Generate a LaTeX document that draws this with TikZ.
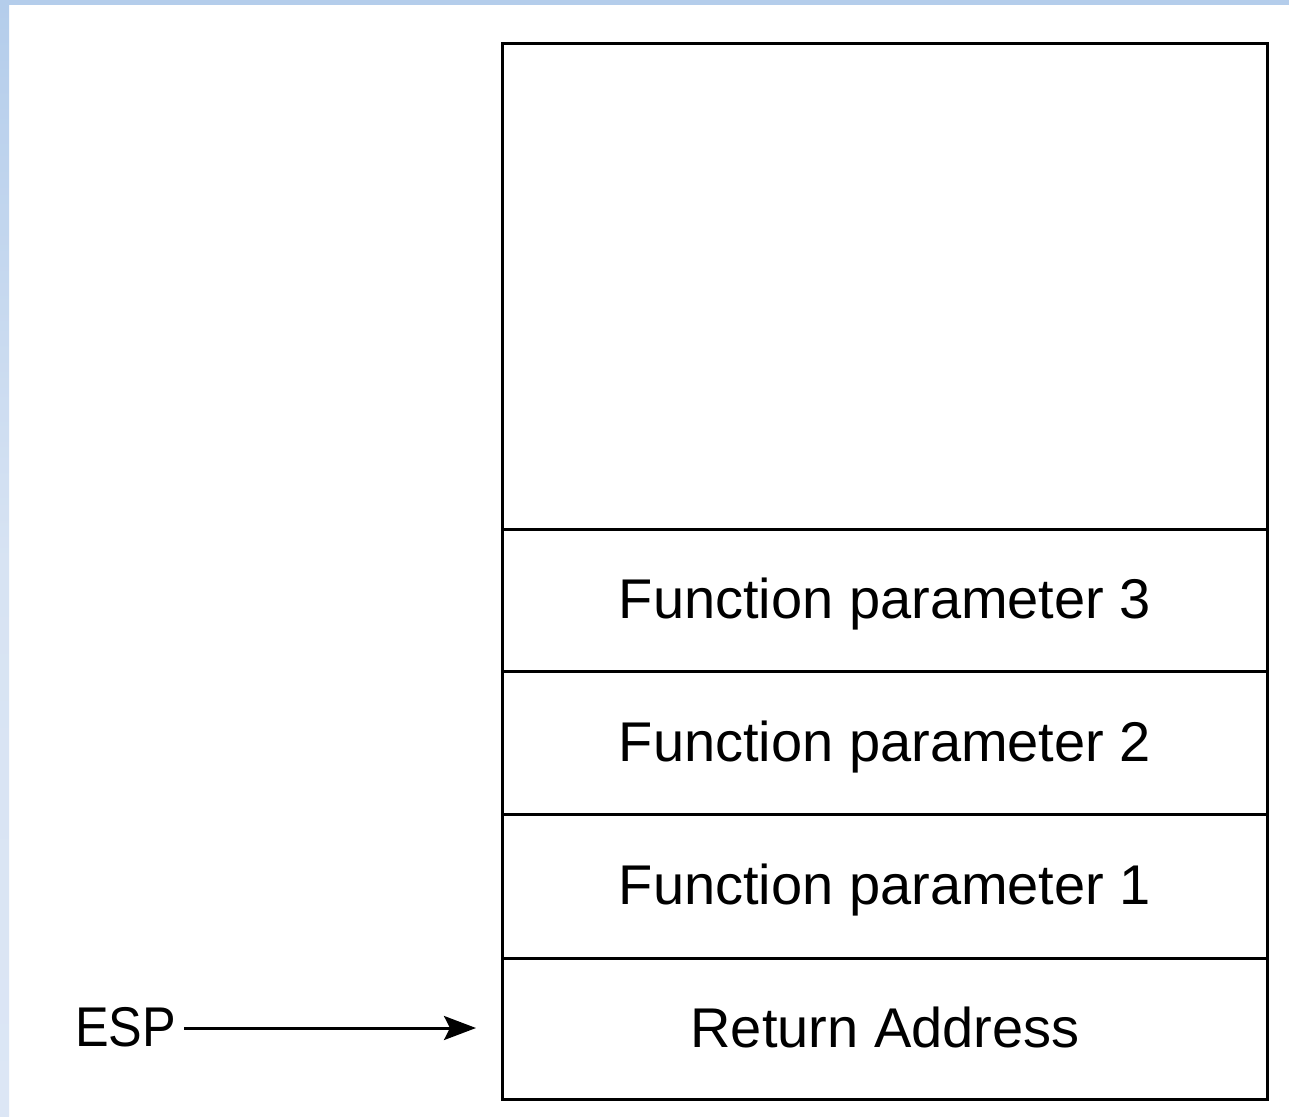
\documentclass[tikz,border=0pt]{standalone}
\usepackage{fontspec}
\setmainfont{Liberation Sans}
\usetikzlibrary{arrows.meta}
\begin{document}
\begin{tikzpicture}[x=1pt,y=-1pt,
  cell/.style={draw=black,line width=3pt,minimum width=765pt,anchor=north west,inner sep=0pt},
  celltext/.style={font=\fontsize{56}{60}\selectfont,inner sep=0pt,anchor=base,yshift=-18pt},
  lbl/.style={font=\fontsize{56}{60}\selectfont,inner sep=0pt},
  pointer/.style={line width=3pt,-{Stealth[length=32pt,width=24pt,inset=6pt]}}]
  % page frame with a blue band on top and a fading one on the left
  \useasboundingbox (0,0) rectangle (1289,1116);
  \fill[white] (0,0) rectangle (1289,1116);
  \fill[color={rgb,255:red,180;green,205;blue,235}] (0,0) rectangle (1289,5);
  \shade[top color={rgb,255:red,180;green,205;blue,235},bottom color={rgb,255:red,220;green,230;blue,245},middle color={rgb,255:red,215;green,227;blue,243}] (0,5) rectangle (9,1116);
  % stack cells, top to bottom
  \node[cell,minimum height=486pt] (free) at (501,42) {};
  \node[cell,minimum height=142pt] (p3) at (501,528) {};
  \node[cell,minimum height=143pt] (p2) at (501,670) {};
  \node[cell,minimum height=144pt] (p1) at (501,813) {};
  \node[cell,minimum height=141pt] (ret) at (501,957) {};
  \node[celltext] (t3) at (p3.center) {Function parameter 3};
  \node[celltext] (t2) at (p2.center) {Function parameter 2};
  \node[celltext] (t1) at (p1.center) {Function parameter 1};
  \node[celltext] (tr) at (ret.center) {Return Address};
  % stack pointer
  \node[lbl,anchor=base west] (esp) at (75,1046) {\scalebox{0.9}[1]{ESP}};
  \coordinate (tip) at (476,1028);
  \draw[pointer] ([xshift=8pt]esp.east |- tip) -- (tip);
\end{tikzpicture}
\end{document}
